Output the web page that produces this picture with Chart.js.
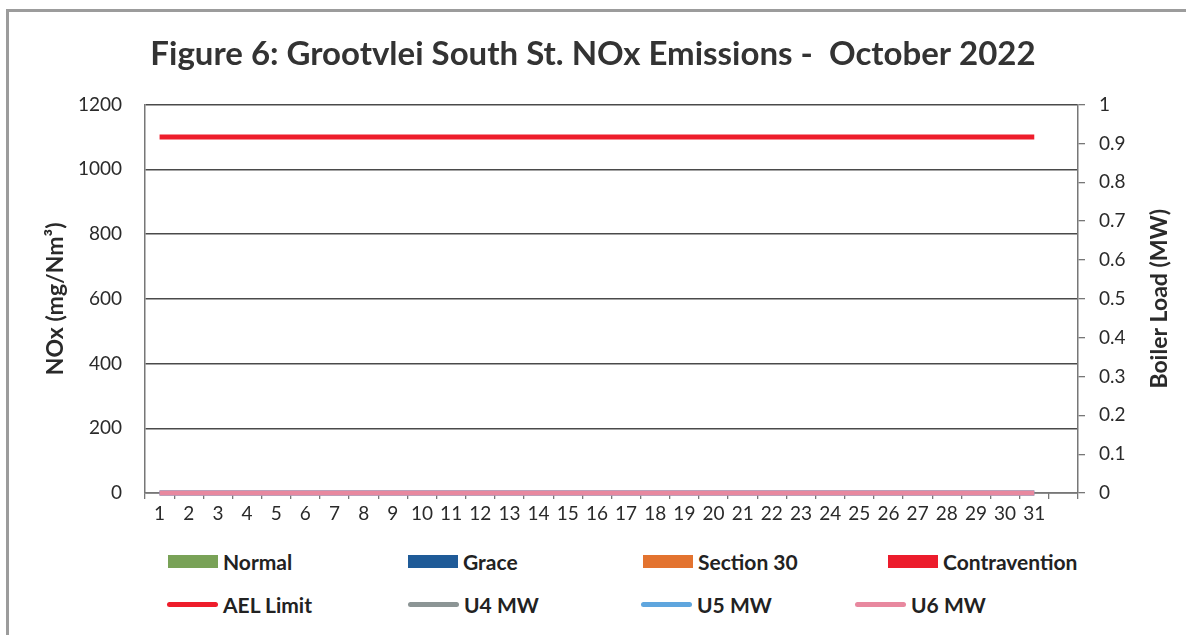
<!DOCTYPE html>
<html>
<head>
<meta charset="utf-8">
<script src="https://cdn.jsdelivr.net/npm/chart.js@4.4.1/dist/chart.umd.min.js"></script>
<style>
  body { margin: 0; background: #fff; font-family: Lato, sans-serif; }
  #frame { position: relative; width: 1186px; height: 635px; overflow: hidden; }
  .edge { position: absolute; background: #9c9c9c; }
  .edge.top { left: 6px; top: 9px; width: 1180px; height: 3px; }
  .edge.left { left: 6px; top: 9px; width: 3px; height: 626px; }
  #chart { position: absolute; left: 0; top: 0; }
  .item { position: absolute; display: flex; align-items: center; font: bold 21px Lato, sans-serif; color: #222; white-space: nowrap; }
  .swatch { margin-right: 5px; }
</style>
</head>
<body>
<div id="frame">
  <canvas id="chart" width="1186" height="535"></canvas>
  <div class="edge top"></div>
  <div class="edge left"></div>
  <div id="legend"></div>
</div>
<script>
// days of October 2022, plus one empty slot at the end of the axis
const days = ['1', '2', '3', '4', '5', '6', '7', '8', '9', '10', '11', '12', '13', '14', '15', '16',
  '17', '18', '19', '20', '21', '22', '23', '24', '25', '26', '27', '28', '29', '30', '31', ''];

// NOx daily values (mg/Nm3) - no readings this month
const normal = [];
const grace = [];
const section30 = [];
const contravention = [];

// emission limit (mg/Nm3)
const aelLimit = [1100, 1100, 1100, 1100, 1100, 1100, 1100, 1100, 1100, 1100, 1100, 1100, 1100, 1100, 1100, 1100,
  1100, 1100, 1100, 1100, 1100, 1100, 1100, 1100, 1100, 1100, 1100, 1100, 1100, 1100, 1100];

// boiler load (MW)
const u4MW = [0, 0, 0, 0, 0, 0, 0, 0, 0, 0, 0, 0, 0, 0, 0, 0, 0, 0, 0, 0, 0, 0, 0, 0, 0, 0, 0, 0, 0, 0, 0];
const u5MW = [0, 0, 0, 0, 0, 0, 0, 0, 0, 0, 0, 0, 0, 0, 0, 0, 0, 0, 0, 0, 0, 0, 0, 0, 0, 0, 0, 0, 0, 0, 0];
const u6MW = [0, 0, 0, 0, 0, 0, 0, 0, 0, 0, 0, 0, 0, 0, 0, 0, 0, 0, 0, 0, 0, 0, 0, 0, 0, 0, 0, 0, 0, 0, 0];

const leftTicks = [0, 200, 400, 600, 800, 1000, 1200];
const rightTicks = [0, 0.1, 0.2, 0.3, 0.4, 0.5, 0.6, 0.7, 0.8, 0.9, 1];

const ink = '#2a2a2a';
const tickFont = { family: 'Lato', size: 19 };

function bar(label, data, color) {
  return { type: 'bar', label: label, data: data, backgroundColor: color, yAxisID: 'y', order: 5 };
}
function line(label, data, color, axis, order) {
  return {
    type: 'line', label: label, data: data, borderColor: color, backgroundColor: color,
    borderWidth: 5, pointRadius: 0, yAxisID: axis, order: order, clip: false
  };
}

const datasets = [
  bar('Normal', normal, '#79a257'),
  bar('Grace', grace, '#1f5b98'),
  bar('Section 30', section30, '#e3732f'),
  bar('Contravention', contravention, '#ec1c2c'),
  line('AEL Limit', aelLimit, '#ee1d2b', 'y', 2),
  line('U4 MW', u4MW, '#8c9595', 'y1', 3),
  line('U5 MW', u5MW, '#5fa6de', 'y1', 2),
  line('U6 MW', u6MW, '#e8889f', 'y1', 0)
];

const rightTitle = {
  id: 'rightTitle',
  afterDraw(chart) {
    const s = chart.scales.y1;
    const ctx = chart.ctx;
    ctx.save();
    ctx.translate(1160, (s.top + s.bottom) / 2);
    ctx.rotate(-Math.PI / 2);
    ctx.font = 'bold 23px Lato';
    ctx.fillStyle = ink;
    ctx.textAlign = 'center';
    ctx.textBaseline = 'middle';
    ctx.fillText('Boiler Load (MW)', 0, 0);
    ctx.restore();
  }
};

const plain = v => String(v);

const chart = new Chart(document.getElementById('chart'), {
  data: { labels: days, datasets: datasets },
  plugins: [rightTitle],
  options: {
    responsive: false,
    animation: false,
    layout: { padding: 0 },
    plugins: {
      legend: { display: false },
      tooltip: { enabled: false },
      title: {
        display: true,
        text: 'Figure 6: Grootvlei South St. NOx Emissions -  October 2022',
        color: '#333',
        font: { family: 'Lato', size: 33, weight: 'bold' },
        padding: { top: 35, bottom: 30 }
      }
    },
    scales: {
      x: {
        offset: true,
        grid: { display: true, offset: true, drawOnChartArea: false, drawTicks: true, tickLength: 6, color: '#777', lineWidth: 1.3 },
        border: { display: true, color: '#777', width: 1.5 },
        ticks: { color: ink, font: tickFont, padding: 3, maxRotation: 0, autoSkip: false },
        afterFit(s) { s.height = 42; }
      },
      y: {
        position: 'left',
        min: 0,
        max: 1200,
        afterBuildTicks(s) { s.ticks = leftTicks.map(v => ({ value: v })); },
        grid: { color: '#4a4a4a', lineWidth: 1.4, drawTicks: false },
        border: { display: true, color: '#777', width: 1.5 },
        ticks: { color: ink, font: tickFont, padding: 23, callback: plain },
        title: {
          display: true, text: 'NOx (mg/Nm³)', color: ink,
          font: { family: 'Lato', size: 23, weight: 'bold' },
          padding: { top: 42, bottom: 0 }
        },
        afterFit(s) { s.width = 145; }
      },
      y1: {
        position: 'right',
        min: 0,
        max: 1,
        afterBuildTicks(s) { s.ticks = rightTicks.map(v => ({ value: v })); },
        grid: { drawOnChartArea: false, drawTicks: true, tickLength: 7, color: '#777', lineWidth: 1.3 },
        border: { display: true, color: '#777', width: 1.5 },
        ticks: { color: ink, font: tickFont, padding: 14, callback: plain },
        afterFit(s) { s.width = 108; }
      }
    }
  }
});

// legend laid out in two rows of four, as in the report
const legendSpots = [
  [168, 562], [408, 562], [643, 562], [888, 562],
  [167, 605], [408, 605], [641, 605], [855, 605]
];
const legend = document.getElementById('legend');
chart.data.datasets.forEach((ds, i) => {
  const item = document.createElement('div');
  item.className = 'item';
  item.style.left = legendSpots[i][0] + 'px';
  item.style.top = (legendSpots[i][1] - 13) + 'px';
  const sw = document.createElement('span');
  sw.className = 'swatch';
  if (ds.type === 'bar') {
    sw.style.cssText = 'display:inline-block;width:50px;height:13px;background:' + ds.backgroundColor;
  } else {
    sw.style.cssText = 'display:inline-block;width:51px;height:5px;border-radius:3px;background:' + ds.borderColor;
  }
  item.appendChild(sw);
  item.appendChild(document.createTextNode(ds.label));
  legend.appendChild(item);
});
</script>
</body>
</html>
